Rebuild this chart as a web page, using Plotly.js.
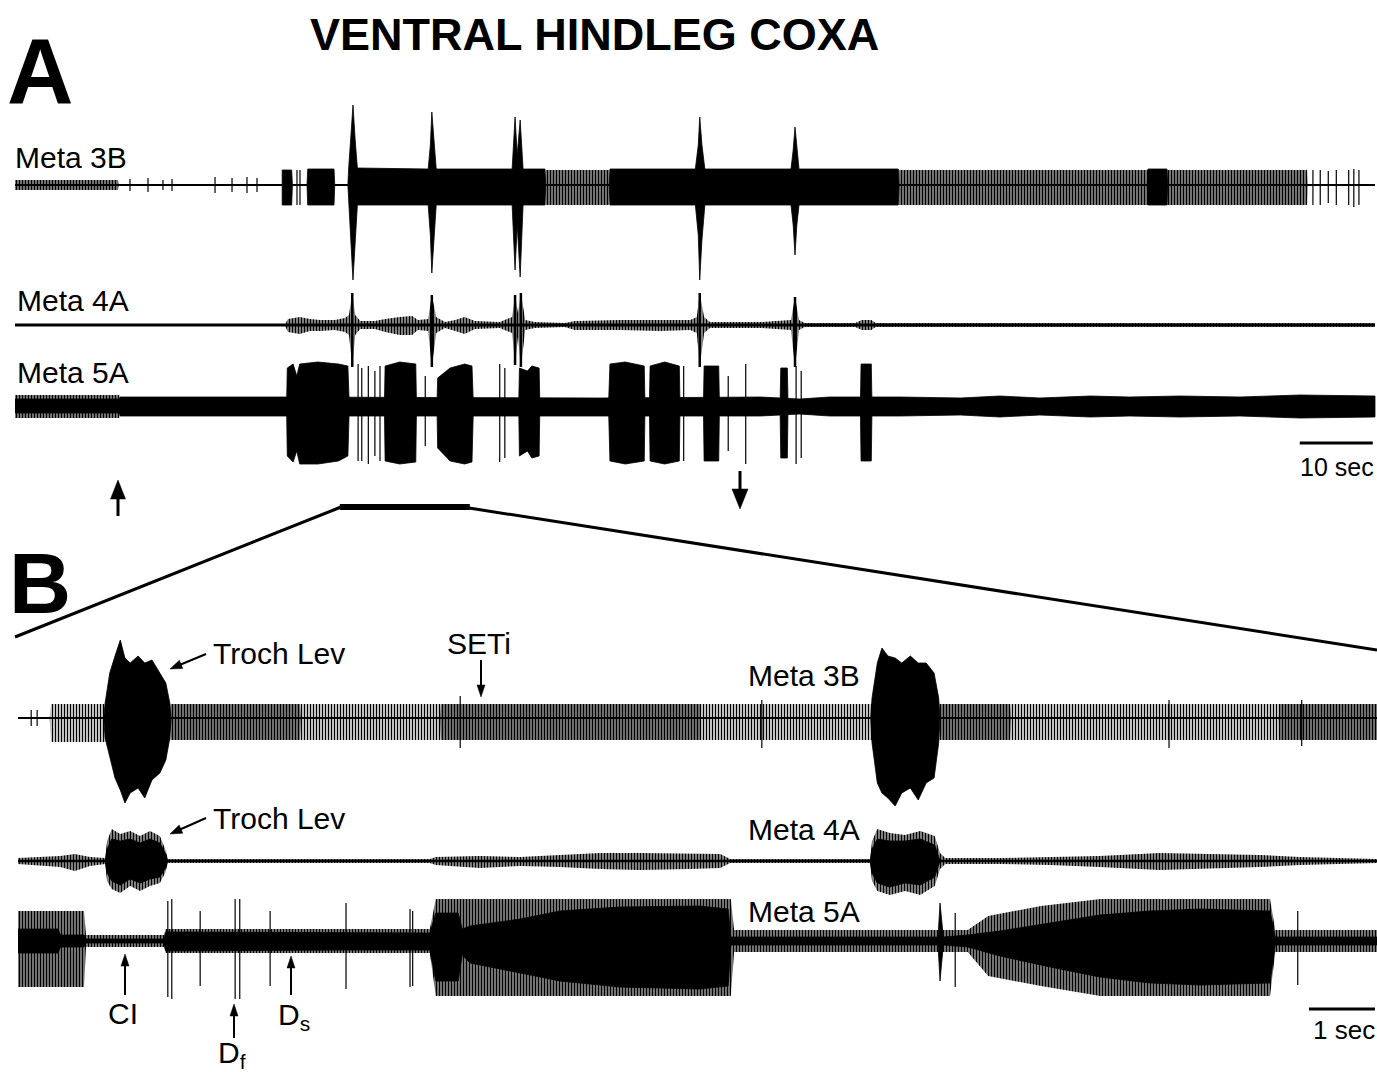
<!DOCTYPE html>
<html><head><meta charset="utf-8">
<script src="https://cdn.plot.ly/plotly-3.0.1.min.js"></script>
<style>html,body{margin:0;padding:0;background:#fff}#chart{width:1377px;height:1072px}</style>
</head><body><div id="chart"></div>
<script>
// ===== DATA (time in s, amplitude in a.u.) =====
// Panel A, Meta 3B — dense discharge envelope
const A3B_denseT  = [0,36.6,36.6,37.9,38.0,40.0,40.1,43.7,43.8,45.6,45.7,46.0,46.3,46.6,46.9,56.6,56.9,57.1,57.4,57.7,68.1,68.5,68.8,69.2,69.6,72.6,72.7,81.4,81.5,93.2,93.6,93.8,94.1,94.5,106.3,106.6,106.85,107.1,107.4,121.0,121.1,155.1,155.2,157.8,157.9,186.3];
const A3B_denseHi = [0,0,15,15,0,0,16,16,0,0,16,45,80,45,17,16,40,73,40,16,16,68,30,65,16,16,0,0,16,16,40,68,40,16,16,35,58,35,16,16,0,0,16,16,0,0];
const A3B_denseLo = [0,0,-20,-20,0,0,-20,-20,0,0,-20,-55,-95,-55,-20,-20,-50,-88,-50,-20,-20,-85,-40,-92,-20,-20,0,0,-20,-20,-50,-95,-55,-20,-20,-40,-70,-40,-20,-20,0,0,-20,-20,0,0];
// Panel A, Meta 3B — spike comb envelope
const A3B_combT  = [0,14.1,14.2,72.6,72.7,81.4,81.5,121.0,121.1,177.0,177.1,186.3];
const A3B_combHi = [5,5,0,0,15,15,0,0,15,15,0,0];
const A3B_combLo = [-5,-5,0,0,-20,-20,0,0,-20,-20,0,0];
// Panel A, Meta 3B — isolated spikes
const A3B_spkT  = [15.75,18.22,20.27,21.51,27.40,29.73,31.78,33.15,38.63,39.04,177.8,178.8,179.9,181.0,182.7,183.4,184.1];
const A3B_spkHi = [6,7,5,6,8,7,8,7,15,15,15,15,14,15,15,16,15];
const A3B_spkLo = [-6,-7,-5,-6,-8,-7,-8,-7,-20,-20,-20,-20,-18,-20,-20,-22,-20];

// Panel A, Meta 4A — activity envelope
const A4A_T  = [0,37.0,37.4,39.0,40.4,41.8,43.8,45.2,45.75,46.2,46.6,47.3,49.3,50.7,52.7,54.4,55.2,56.6,57.1,57.7,58.9,60.3,61.6,63.0,66.4,68.1,68.5,68.9,69.3,69.9,71.2,75.3,76.7,82.9,88.4,92.5,93.4,93.8,94.4,95.2,102.1,106.3,106.85,107.4,108.2,115.1,116.0,117.3,117.9,186.3];
const A4A_Hi = [1,1,6,8,6,5,5,7,10,32,10,4,4,6,8,9,5,6,30,8,3,5,8,4,3,8,30,12,32,5,3,2,4,5,5,5,8,32,8,3,3,5,28,5,2,2,5,5,2,2];
const A4A_Lo = [-1,-1,-7,-9,-6,-6,-5,-7,-10,-42,-10,-4,-4,-7,-10,-10,-5,-6,-42,-8,-3,-6,-9,-4,-3,-8,-40,-12,-42,-5,-3,-2,-5,-5,-6,-5,-8,-42,-8,-3,-3,-5,-42,-5,-2,-2,-5,-5,-2,-2];
// Panel A, Meta 4A — large cross-talk spikes
const A4A_spkT  = [46.2,57.1,68.5,69.3,93.8,106.85];
const A4A_spkHi = [32,30,30,32,32,28];
const A4A_spkLo = [-42,-42,-40,-42,-42,-42];

// Panel A, Meta 5A — tonic background band
const A5A_bandT  = [0,14.3,14.4,25.3,36.3,80.1,102.1,107.5,111.6,121.2,129.5,134.9,140.4,147.3,152.7,159.6,167.8,176.0,186.3];
const A5A_bandHi = [7,7,9,9,9,8,9,7,9,9,8,10,8,10,9,10,9,11,10];
const A5A_bandLo = [-7,-7,-10,-10,-10,-10,-10,-8,-10,-10,-9,-11,-9,-11,-10,-11,-10,-12,-11];
// Panel A, Meta 5A — bursts
const A5A_burstT  = [0,37.2,37.3,38.1,38.6,39.0,41.5,44.3,45.6,45.8,50.6,50.7,52.7,54.9,55.0,57.8,57.9,59.6,61.6,62.6,62.8,69.0,69.1,70.2,70.8,71.8,71.9,81.3,81.5,83.6,86.2,86.3,86.9,87.0,89.0,91.0,91.1,94.3,94.4,96.4,96.5,104.8,104.9,105.8,105.9,115.8,115.9,117.3,117.4,186.3];
const A5A_burstHi = [0,0,38,42,30,42,44,42,40,0,0,40,44,42,0,0,28,38,42,40,0,0,38,35,40,38,0,0,42,44,40,0,0,40,44,40,0,0,40,40,0,0,38,38,0,0,42,42,0,0];
const A5A_burstLo = [0,0,-50,-56,-45,-58,-58,-55,-50,0,0,-55,-58,-56,0,0,-42,-55,-58,-56,0,0,-50,-45,-52,-50,0,0,-55,-58,-55,0,0,-55,-58,-55,0,0,-55,-55,0,0,-52,-52,0,0,-55,-55,0,0];
// Panel A, Meta 5A — comb at start
const A5A_combT  = [0,14.3,14.4,186.3];
const A5A_combHi = [11,11,0,0];
const A5A_combLo = [-12,-12,0,0];
// Panel A, Meta 5A — isolated spikes
const A5A_spkT  = [47.0,47.5,48.4,49.3,50.0,56.2,66.4,67.1,91.6,97.7,100.1,107.0,107.7];
const A5A_spkHi = [42,38,40,35,40,30,42,38,40,30,42,40,35];
const A5A_spkLo = [-55,-55,-58,-50,-55,-40,-56,-52,-55,-45,-58,-58,-52];

// Panel B, Meta 3B — Troch Lev bursts
const B3B_denseT  = [0,1.30,1.32,1.39,1.47,1.55,1.62,1.70,1.82,1.92,2.03,2.15,2.24,2.30,2.32,12.92,12.94,13.02,13.09,13.18,13.29,13.39,13.52,13.64,13.76,13.88,13.95,13.97,20.59];
const B3B_denseHi = [0,0,15,45,62,78,60,55,62,55,58,45,35,15,0,0,20,55,70,62,60,55,62,55,55,45,20,0,0];
const B3B_denseLo = [0,0,-20,-40,-60,-72,-85,-75,-70,-80,-62,-55,-42,-20,0,0,-25,-65,-75,-80,-88,-75,-70,-82,-65,-60,-25,0,0];
// Panel B, Meta 3B — SETi spike comb (whole run) and its denser stretches
const B3B_combT  = [0,0.48,0.50,1.32,2.30,20.59];
const B3B_combHi = [0,0,14,14,14,14];
const B3B_combLo = [0,0,-24,-24,-22,-22];
const B3B_comb2T  = [0,2.30,2.32,4.27,4.29,6.39,6.41,10.33,10.35,13.97,13.99,15.03,15.05,19.10,19.12,20.59];
const B3B_comb2Hi = [0,0,14,14,0,0,14,14,0,0,14,14,0,0,14,14];
const B3B_comb2Lo = [0,0,-22,-22,0,0,-22,-22,0,0,-22,-22,0,0,-22,-22];
const B3B_spkT  = [0.20,0.29,6.70,11.27,17.44,19.45];
const B3B_spkHi = [8,8,22,18,18,18];
const B3B_spkLo = [-8,-8,-30,-30,-30,-28];

// Panel B, Meta 4A — activity envelope
const B4A_T  = [0,0.64,0.86,1.09,1.32,1.35,1.42,1.55,1.70,1.85,2.00,2.15,2.23,2.27,6.24,6.33,7.00,7.61,8.21,8.82,9.42,10.18,10.64,10.79,12.91,12.94,13.02,13.21,13.44,13.67,13.89,13.97,14.05,14.88,15.64,16.39,17.30,17.91,18.82,19.42,20.59];
const B4A_Hi = [3,5,7,4,3,20,32,27,30,25,30,25,12,2,2,4,5,4,6,8,8,7,7,2,2,20,32,28,26,30,25,8,3,3,4,5,8,7,6,4,2];
const B4A_Lo = [-3,-6,-10,-5,-3,-20,-28,-32,-25,-30,-25,-22,-12,-2,-2,-4,-7,-5,-6,-8,-9,-8,-7,-2,-2,-20,-30,-34,-30,-34,-25,-8,-3,-3,-4,-6,-9,-8,-6,-4,-2];
// Panel B, Meta 4A — solid core of the Troch Lev bursts
const B4A_coreT  = [0,1.32,1.35,1.42,1.55,1.70,1.85,2.00,2.15,2.23,2.27,12.91,12.94,13.02,13.21,13.44,13.67,13.89,13.97,20.59];
const B4A_coreHi = [0,0,12,22,20,22,18,22,18,8,0,0,12,22,20,20,22,16,0,0];
const B4A_coreLo = [0,0,-12,-20,-24,-18,-22,-18,-16,-8,0,0,-12,-22,-26,-22,-24,-16,0,0];

// Panel B, Meta 5A — dense core
const B5A_coreT  = [0,0.61,0.64,1.00,1.03,2.21,2.24,4.95,6.24,6.33,6.67,6.73,6.85,7.61,8.21,9.12,10.33,10.76,10.80,13.94,13.97,14.02,14.39,14.88,15.64,16.39,17.15,17.91,18.97,19.05,20.59];
const B5A_coreHi = [12,12,6,6,2,2,9,8,8,28,28,12,15,22,30,34,35,32,4,4,38,4,6,10,18,26,30,32,30,4,4];
const B5A_coreLo = [-12,-12,-6,-6,-2,-2,-10,-9,-9,-40,-40,-14,-22,-32,-40,-46,-48,-45,-4,-4,-40,-4,-6,-15,-26,-36,-42,-44,-42,-4,-4];
// Panel B, Meta 5A — spike comb
const B5A_combT  = [0,1.00,1.03,2.21,2.24,6.24,6.33,10.80,10.85,14.39,14.70,15.50,16.40,18.97,19.05,20.59];
const B5A_combHi = [30,30,6,6,12,12,42,42,11,11,25,35,42,42,11,11];
const B5A_combLo = [-46,-46,-6,-6,-12,-12,-55,-55,-11,-11,-35,-45,-55,-55,-11,-11];
const B5A_spkT  = [2.27,2.33,2.76,3.29,3.36,3.82,4.97,5.94,5.98,14.20,19.39];
const B5A_spkHi = [40,42,30,42,42,30,38,32,30,28,30];
const B5A_spkLo = [-56,-58,-45,-58,-58,-45,-48,-46,-45,-46,-44];

// Scale bars and markers (s)
const scaleA = 10, scaleB = 1;
const zoomWindowA = [44.5, 62.3];

// ===== RENDER =====
const W = 1377, H = 1072;
const P = (px, py) => ({x: px / W, y: 1 - py / H});
const FONT = 'Liberation Sans, Arial, Helvetica, sans-serif';
const HALF = 120;
const dom = yb => [1 - (yb + HALF) / H, 1 - (yb - HALF) / H];

function env(t, hi, lo, xa, ya, comb) {
  const x = t.concat(t.slice().reverse());
  const y = hi.concat(lo.slice().reverse());
  const tr = {type: 'scatter', mode: 'lines', x, y, xaxis: xa, yaxis: ya, fill: 'toself', hoverinfo: 'skip'};
  if (comb) {
    tr.fillcolor = 'rgba(0,0,0,0)';
    tr.fillpattern = {shape: '|', size: comb.size, solidity: comb.solidity, fgcolor: '#000', bgcolor: 'rgba(0,0,0,0)'};
    tr.line = {width: 0, color: 'rgba(0,0,0,0)'};
  } else {
    tr.fillcolor = '#000';
    tr.line = {width: 0.8, color: '#000'};
  }
  return tr;
}
function spikes(t, hi, lo, xa, ya, w) {
  const x = [], y = [];
  t.forEach((v, i) => { x.push(v, v, null); y.push(hi[i], lo[i], null); });
  return {type: 'scatter', mode: 'lines', x, y, xaxis: xa, yaxis: ya, line: {width: w || 1.2, color: '#000'}, hoverinfo: 'skip'};
}
function baseline(t, xa, ya, w) {
  return {type: 'scatter', mode: 'lines', x: [t[0], t[t.length - 1]], y: [0, 0], xaxis: xa, yaxis: ya, line: {width: w, color: '#000'}, hoverinfo: 'skip'};
}
const COMB = {size: 3, solidity: 0.5};
const COMB_DARK = {size: 3, solidity: 0.7};
const HAIR = {size: 3, solidity: 0.67};

const data = [
  baseline(A3B_denseT, 'x', 'y', 2),
  env(A3B_combT, A3B_combHi, A3B_combLo, 'x', 'y', COMB_DARK),
  env(A3B_denseT, A3B_denseHi, A3B_denseLo, 'x', 'y'),
  spikes(A3B_spkT, A3B_spkHi, A3B_spkLo, 'x', 'y'),
  env(A4A_T, A4A_Hi, A4A_Lo, 'x', 'y2', HAIR),
  spikes(A4A_spkT, A4A_spkHi, A4A_spkLo, 'x', 'y2', 2.5),
  baseline(A4A_T, 'x', 'y2', 3),
  env(A5A_combT, A5A_combHi, A5A_combLo, 'x', 'y3', COMB_DARK),
  env(A5A_bandT, A5A_bandHi, A5A_bandLo, 'x', 'y3'),
  env(A5A_burstT, A5A_burstHi, A5A_burstLo, 'x', 'y3'),
  spikes(A5A_spkT, A5A_spkHi, A5A_spkLo, 'x', 'y3'),

  baseline(B3B_denseT, 'x2', 'y4', 2),
  env(B3B_combT, B3B_combHi, B3B_combLo, 'x2', 'y4', COMB),
  env(B3B_comb2T, B3B_comb2Hi, B3B_comb2Lo, 'x2', 'y4', {size: 3, solidity: 0.62}),
  env(B3B_denseT, B3B_denseHi, B3B_denseLo, 'x2', 'y4'),
  spikes(B3B_spkT, B3B_spkHi, B3B_spkLo, 'x2', 'y4'),
  env(B4A_T, B4A_Hi, B4A_Lo, 'x2', 'y5', HAIR),
  env(B4A_coreT, B4A_coreHi, B4A_coreLo, 'x2', 'y5'),
  baseline(B4A_T, 'x2', 'y5', 2.5),
  env(B5A_combT, B5A_combHi, B5A_combLo, 'x2', 'y6', COMB_DARK),
  env(B5A_coreT, B5A_coreHi, B5A_coreLo, 'x2', 'y6'),
  spikes(B5A_spkT, B5A_spkHi, B5A_spkLo, 'x2', 'y6'),
  baseline(B5A_coreT, 'x2', 'y6', 2)
];

const hidden = {visible: false, fixedrange: true};
const yax = (yb, anchor) => Object.assign({domain: dom(yb), range: [-HALF, HALF], anchor}, hidden);

function label(text, px, py, size, opts) {
  const p = P(px, py);
  return Object.assign({xref: 'paper', yref: 'paper', x: p.x, y: p.y, text, showarrow: false,
    xanchor: 'left', yanchor: 'middle', font: {family: FONT, size, color: '#000'}}, opts || {});
}
// arrow drawn as shapes: shaft + filled triangular head (pixel geometry converted to paper)
function arrowShapes(hx, hy, tx, ty, w, headLen, headW) {
  const dx = hx - tx, dy = hy - ty, L = Math.hypot(dx, dy), ux = dx / L, uy = dy / L;
  const bx = hx - ux * headLen, by = hy - uy * headLen;
  const px = -uy, py = ux;
  const a = P(bx + px * headW / 2, by + py * headW / 2), b = P(bx - px * headW / 2, by - py * headW / 2), h = P(hx, hy);
  const t0 = P(tx, ty), t1 = P(bx + ux, by + uy);
  return [
    {type: 'line', xref: 'paper', yref: 'paper', x0: t0.x, y0: t0.y, x1: t1.x, y1: t1.y, line: {color: '#000', width: w}},
    {type: 'path', xref: 'paper', yref: 'paper', path: `M ${h.x},${h.y} L ${a.x},${a.y} L ${b.x},${b.y} Z`, fillcolor: '#000', line: {color: '#000', width: 0.5}}
  ];
}

const annotations = [
  label('<b>VENTRAL HINDLEG COXA</b>', 594, 34, 45, {xanchor: 'center'}),
  label('<b>A</b>', 5, 71, 92),
  label('<b>B</b>', 7, 583, 86),
  label('Meta 3B', 13, 158, 30),
  label('Meta 4A', 15, 300, 30),
  label('Meta 5A', 15, 373, 30),
  label('10 sec', 1298, 467, 25),
  label('Troch Lev', 211, 653, 30),
  label('SETi', 445, 643, 30),
  label('Meta 3B', 746, 675, 30),
  label('Troch Lev', 211, 818, 30),
  label('Meta 4A', 746, 829, 30),
  label('Meta 5A', 746, 911, 30),
  label('CI', 106, 1013, 30),
  label('D<sub>f</sub>', 216, 1054, 30),
  label('D<sub>s</sub>', 276, 1016, 30),
  label('1 sec', 1311, 1030, 26)
];

const tEndA = A3B_denseT[A3B_denseT.length - 1];
const tEndB = B3B_denseT[B3B_denseT.length - 1];
const shapes = [
  // scale bars
  {type: 'line', xref: 'x', yref: 'paper', x0: tEndA - scaleA - 0.3, x1: tEndA - 0.3, y0: P(0, 443).y, y1: P(0, 443).y, line: {color: '#000', width: 3}},
  {type: 'line', xref: 'x2', yref: 'paper', x0: tEndB - scaleB - 0.03, x1: tEndB - 0.03, y0: P(0, 1009).y, y1: P(0, 1009).y, line: {color: '#000', width: 3}},
  // expanded window bar
  {type: 'line', xref: 'x', yref: 'paper', x0: zoomWindowA[0], x1: zoomWindowA[1], y0: P(0, 507).y, y1: P(0, 507).y, line: {color: '#000', width: 6}},
  // connector lines
  {type: 'line', xref: 'paper', yref: 'paper', x0: P(341, 507).x, y0: P(341, 507).y, x1: P(15, 637).x, y1: P(15, 637).y, line: {color: '#000', width: 3}},
  {type: 'line', xref: 'paper', yref: 'paper', x0: P(469, 508).x, y0: P(469, 508).y, x1: P(1377, 650).x, y1: P(1377, 650).y, line: {color: '#000', width: 3}}
].concat(
  arrowShapes(118, 480, 118, 516, 3, 19, 15),
  arrowShapes(740, 509, 740, 471, 3, 20, 16),
  arrowShapes(170, 669, 206, 654, 2, 12, 9),
  arrowShapes(170, 834, 206, 818, 2, 12, 9),
  arrowShapes(481, 697, 481, 660, 2, 12, 8),
  arrowShapes(125, 954, 125, 995, 2, 12, 8),
  arrowShapes(234, 1004, 234, 1038, 2, 12, 8),
  arrowShapes(291, 956, 291, 995, 2, 12, 8)
);

const layout = {
  width: W, height: H, margin: {l: 0, r: 0, t: 0, b: 0},
  paper_bgcolor: '#fff', plot_bgcolor: 'rgba(0,0,0,0)', showlegend: false,
  xaxis: Object.assign({domain: [0, 1], range: [-15 / 7.3, 1362 / 7.3], anchor: 'y'}, hidden),
  xaxis2: Object.assign({domain: [0, 1], range: [-18 / 66, 1359 / 66], anchor: 'y4'}, hidden),
  yaxis: yax(185, 'x'),
  yaxis2: yax(325, 'x'),
  yaxis3: yax(406, 'x'),
  yaxis4: yax(718, 'x2'),
  yaxis5: yax(861, 'x2'),
  yaxis6: yax(941, 'x2'),
  annotations, shapes
};

Plotly.newPlot('chart', data, layout, {staticPlot: true, displayModeBar: false});
</script></body></html>
